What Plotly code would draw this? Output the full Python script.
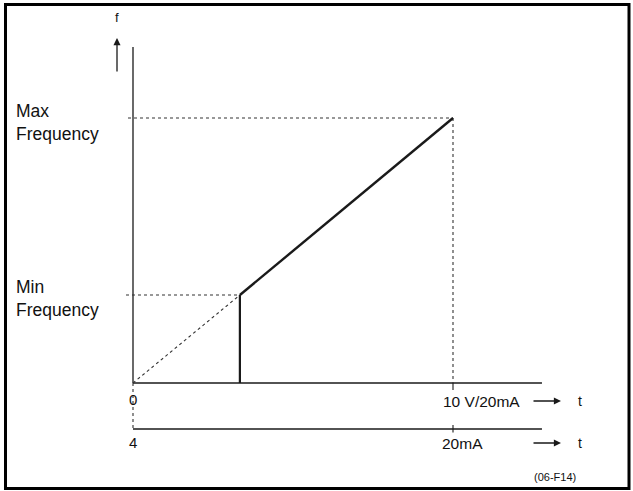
import plotly.graph_objects as go

# ---------------- data ----------------
input_points = [0.0, 3.34, 10.0]      # input signal (V): origin, min-frequency input, full scale
freq_points = [0.0, 33.2, 100.0]      # output frequency (% of max)
input_axis_end = 12.78                # extent of the drawn input axes (V)
freq_axis_top = 126.8                 # extent of the drawn frequency axis (%)
mA_axis_level = -17.36                # vertical placement of the 4-20 mA scale
volt_tick_labels = ["0", "10 V/20mA"]
mA_tick_labels = ["4", "20mA"]
freq_labels = ["Min<br>Frequency", "Max<br>Frequency"]
figure_code = "(06-F14)"

W, H = 633, 491
# pixel scale used only for the view window and label placement
PX_PER_V = 32.0
PX_PER_PCT = 2.65
ORIGIN_PX = (133.0, 383.0)

def X(px):
    return (px - ORIGIN_PX[0]) / PX_PER_V

def Y(py):
    return (ORIGIN_PX[1] - py) / PX_PER_PCT

line_col = "#1a1a1a"
dot_col = "#333333"

fig = go.Figure()

def seg(xs, ys, width=1.3, dash="solid", color=line_col):
    fig.add_trace(go.Scatter(x=xs, y=ys, mode="lines",
                             line=dict(color=color, width=width, dash=dash),
                             hoverinfo="skip", showlegend=False))

x0, xmin, xmax = input_points
f0, fmin, fmax = freq_points

# axes
seg([x0, x0], [f0, freq_axis_top])
seg([x0, input_axis_end], [f0, f0])
seg([x0, input_axis_end], [mA_axis_level, mA_axis_level])
seg([x0, x0], [f0, mA_axis_level], width=1.1, dash="dot", color=dot_col)

# ticks at full scale
seg([xmax, xmax], [f0, f0 - 2.64], width=1.1)
seg([xmax, xmax], [mA_axis_level + 1.5, mA_axis_level - 1.3], width=1.1)

# dotted guide lines
seg([x0, xmin], [f0, fmin], width=1.1, dash="dot", color=dot_col)
seg([X(126), xmin], [fmin, fmin], width=1.1, dash="dot", color=dot_col)
seg([X(128), xmax], [fmax, fmax], width=1.1, dash="dot", color=dot_col)
seg([xmax, xmax], [fmax, f0], width=1.1, dash="dot", color=dot_col)

# characteristic
seg([xmin, xmin], [f0, fmin], width=2.2)
seg([xmin, xmax], [fmin, fmax], width=2.4)

font = "Liberation Sans, Arial, sans-serif"
ann = []

def text(px, py, s, size=14, xanchor="center", align="left"):
    ann.append(dict(x=X(px), y=Y(py), text=s, showarrow=False, xanchor=xanchor,
                    yanchor="middle", align=align,
                    font=dict(family=font, size=size, color="#111")))

def arrow(tip_px, tip_py, dx, dy):
    ann.append(dict(x=X(tip_px), y=Y(tip_py), ax=dx, ay=dy, axref="pixel", ayref="pixel",
                    text="", showarrow=True, arrowhead=2, arrowsize=1.1, arrowwidth=1.3,
                    arrowcolor=line_col))

# frequency axis label and arrow
text(117, 17, "f", size=13)
arrow(117, 38, 0, 35)

# frequency labels
text(14, 298, freq_labels[0], size=17.5, xanchor="left")
text(14, 122, freq_labels[1], size=17.5, xanchor="left")

# axis tick labels
text(133, 399, volt_tick_labels[0], size=15)
text(133, 442, mA_tick_labels[0], size=15)
text(441, 401, volt_tick_labels[1], size=15.5, xanchor="left")
text(440, 443, mA_tick_labels[1], size=15.5, xanchor="left")

# t arrows
arrow(561, 401, -29, 0)
arrow(561, 443, -29, 0)
text(580, 401, "t", size=14)
text(580, 443, "t", size=14)

text(532, 477, figure_code, size=11, xanchor="left")

fig.update_layout(
    width=W, height=H,
    margin=dict(l=0, r=0, t=0, b=0),
    paper_bgcolor="white", plot_bgcolor="white",
    xaxis=dict(range=[X(0), X(W)], visible=False, fixedrange=True),
    yaxis=dict(range=[Y(H), Y(0)], visible=False, fixedrange=True),
    annotations=ann,
    shapes=[dict(type="rect", xref="paper", yref="paper",
                 x0=5.5 / W, x1=629.0 / W, y0=1 - 4.5 / H, y1=1 - 488.5 / H,
                 line=dict(color="black", width=3))],
    showlegend=False,
    hovermode=False,
)

fig.write_html("out.html", config={"displayModeBar": False},
               post_script="document.body.style.margin='0px';")
